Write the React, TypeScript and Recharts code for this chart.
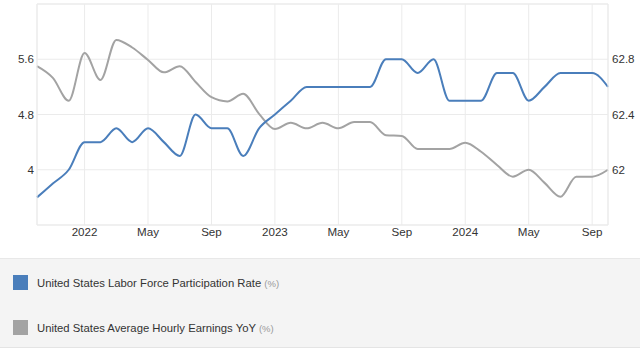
import React from 'react';
import { LineChart, Line, XAxis, YAxis, CartesianGrid, ReferenceLine } from 'recharts';

const months = [
  '2021-10', '2021-11', '2021-12',
  '2022-01', '2022-02', '2022-03', '2022-04', '2022-05', '2022-06', '2022-07', '2022-08', '2022-09', '2022-10', '2022-11', '2022-12',
  '2023-01', '2023-02', '2023-03', '2023-04', '2023-05', '2023-06', '2023-07', '2023-08', '2023-09', '2023-10', '2023-11', '2023-12',
  '2024-01', '2024-02', '2024-03', '2024-04', '2024-05', '2024-06', '2024-07', '2024-08', '2024-09', '2024-10',
];

const participationRate = [
  61.8, 61.9, 62.0,
  62.2, 62.2, 62.3, 62.2, 62.3, 62.2, 62.1, 62.4, 62.3, 62.3, 62.1, 62.3,
  62.4, 62.5, 62.6, 62.6, 62.6, 62.6, 62.6, 62.8, 62.8, 62.7, 62.8, 62.5,
  62.5, 62.5, 62.7, 62.7, 62.5, 62.6, 62.7, 62.7, 62.7, 62.6,
];

const hourlyEarningsYoY = [
  5.5, 5.33, 5.0,
  5.69, 5.3, 5.88, 5.77, 5.59, 5.41, 5.5, 5.27, 5.05, 4.99, 5.1, 4.81,
  4.59, 4.68, 4.6, 4.68, 4.6, 4.69, 4.69, 4.5, 4.49, 4.3, 4.3, 4.3,
  4.39, 4.26, 4.07, 3.9, 4.0, 3.81, 3.61, 3.9, 3.9, 4.0,
];

const xTicks = ['2022-01', '2022-05', '2022-09', '2023-01', '2023-05', '2023-09', '2024-01', '2024-05', '2024-09'];
const xTickLabels = ['2022', 'May', 'Sep', '2023', 'May', 'Sep', '2024', 'May', 'Sep'];
const leftTicks = [4, 4.8, 5.6];
const rightTicks = [62, 62.4, 62.8];

const seriesNames = ['United States Labor Force Participation Rate', 'United States Average Hourly Earnings YoY'];
const unitLabel = '(%)';

const data = months.map((m, i) => ({ month: m, lfpr: participationRate[i], ahe: hourlyEarningsYoY[i] }));

const BLUE = '#4a7ebb';
const GRAY = '#a3a3a3';
const GRID = '#ebebeb';
const FONT = '"Liberation Sans", Arial, sans-serif';

const tickStyle = { fontSize: 11.6, fill: '#333', fontFamily: FONT };

export default function App() {
  return (
    <div style={{ position: 'absolute', left: 0, top: 0, width: 640, height: 351, background: '#fff', fontFamily: FONT }}>
      <LineChart width={640} height={258} data={data} margin={{ top: 4, right: 0, bottom: 0, left: 0 }}>
        <CartesianGrid yAxisId="left" stroke={GRID} horizontal vertical />
        <XAxis
          dataKey="month"
          ticks={xTicks}
          tickFormatter={(v: string) => xTickLabels[xTicks.indexOf(v)]}
          interval={0}
          height={33}
          tickLine={false}
          tickSize={0}
          tickMargin={3}
          axisLine={{ stroke: GRID }}
          tick={tickStyle}
          padding={{ left: 0, right: 0 }}
        />
        <YAxis
          yAxisId="left"
          orientation="left"
          domain={[3.2, 6.4]}
          ticks={leftTicks}
          width={37}
          tickLine={false}
          tickSize={0}
          tickMargin={3}
          axisLine={{ stroke: GRID }}
          tick={tickStyle}
        />
        <YAxis
          yAxisId="right"
          orientation="right"
          domain={[61.6, 63.2]}
          ticks={rightTicks}
          width={32}
          tickLine={false}
          tickSize={0}
          tickMargin={4}
          axisLine={{ stroke: GRID }}
          tick={tickStyle}
        />
        <ReferenceLine yAxisId="left" y={6.4} stroke={GRID} />
        <Line
          yAxisId="left"
          type="monotone"
          dataKey="ahe"
          stroke={GRAY}
          strokeWidth={2}
          dot={false}
          isAnimationActive={false}
        />
        <Line
          yAxisId="right"
          type="monotone"
          dataKey="lfpr"
          stroke={BLUE}
          strokeWidth={2}
          dot={false}
          isAnimationActive={false}
        />
      </LineChart>
      <div
        style={{
          position: 'absolute',
          left: 0,
          top: 258,
          width: 640,
          height: 90,
          background: '#f4f4f4',
          borderTop: '1px solid #e8e8e8',
          borderBottom: '1px solid #e4e4e4',
          boxSizing: 'border-box',
        }}
      >
        {[BLUE, GRAY].map((c, i) => (
          <div
            key={i}
            style={{ position: 'absolute', left: 13, top: 16 + i * 45, height: 15, display: 'flex', alignItems: 'center' }}
          >
            <div style={{ width: 15, height: 15, background: c }} />
            <span style={{ marginLeft: 9, fontSize: 11.3, color: '#333', whiteSpace: 'nowrap' }}>
              {seriesNames[i]} <span style={{ fontSize: 9.5, color: '#999' }}>{unitLabel}</span>
            </span>
          </div>
        ))}
      </div>
    </div>
  );
}
